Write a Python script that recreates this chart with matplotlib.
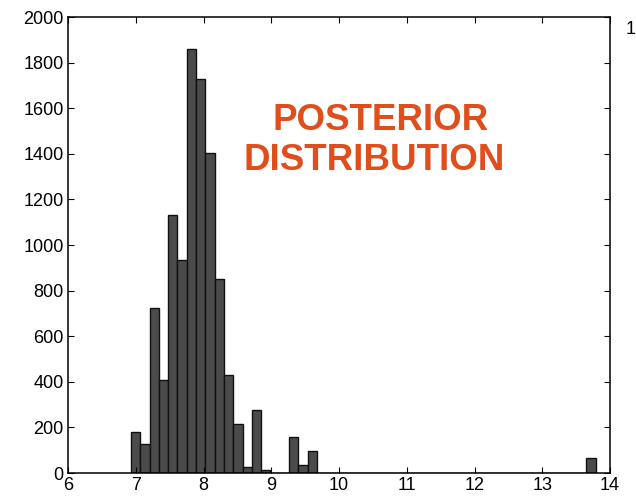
import numpy as np
import matplotlib.pyplot as plt

# histogram of the posterior samples (50 equal bins)
bin_lo, bin_hi = 6.93, 13.79
counts = [180, 128, 722, 407, 1132, 933, 1860, 1726, 1403, 851,
          432, 213, 26, 278, 14, 0, 0, 160, 33, 95,
          0, 0, 0, 0, 0, 0, 0, 0, 0, 0,
          0, 0, 0, 0, 0, 0, 0, 0, 0, 0,
          0, 0, 0, 0, 0, 0, 0, 0, 0, 67]
xticks = [6, 7, 8, 9, 10, 11, 12, 13, 14]
yticks = [0, 200, 400, 600, 800, 1000, 1200, 1400, 1600, 1800, 2000]

plt.rcParams['font.family'] = ['Liberation Sans', 'DejaVu Sans']

fig = plt.figure(figsize=(6.36, 4.98), dpi=100)
ax = fig.add_axes([68 / 636, 1 - 473 / 498, 542 / 636, 456 / 498])

edges = np.linspace(bin_lo, bin_hi, len(counts) + 1)
ax.bar(edges[:-1], counts, width=np.diff(edges), align='edge',
       color='#4b4b4b', edgecolor='#111111', linewidth=1.0)

ax.set_xlim(6, 14)
ax.set_ylim(0, 2000)
ax.set_xticks(xticks)
ax.set_yticks(yticks)
ax.tick_params(direction='in', length=4, width=0.8, labelsize=13,
               top=True, right=True, pad=3)
for s in ax.spines.values():
    s.set_linewidth(1.1)

# the two title lines are placed separately
kw = dict(ha='center', va='center', fontsize=26.5, fontweight='bold',
          color='#e04e1c')
fig.text(380.5 / 636, 1 - 120 / 498, 'POSTERIOR', **kw)
fig.text(374 / 636, 1 - 160 / 498, 'DISTRIBUTION', **kw)

# stray label at the right edge
fig.text(626 / 636, 1 - 30 / 498, '1', fontsize=13, ha='left', va='center')

fig.savefig('out.png', dpi=100)
